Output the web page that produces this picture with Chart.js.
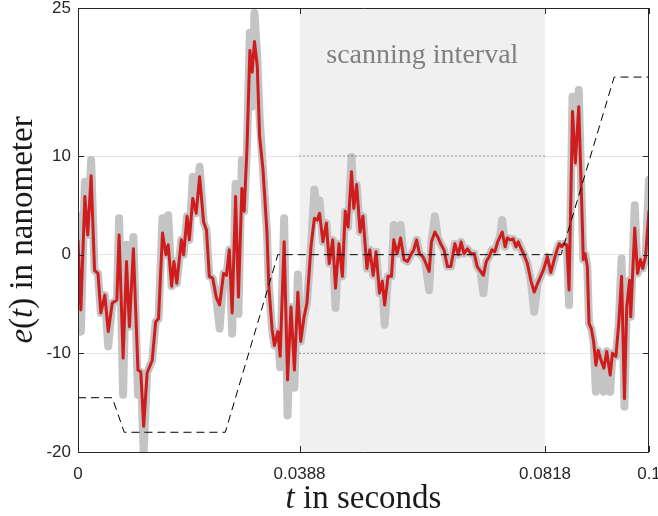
<!DOCTYPE html>
<html>
<head>
<meta charset="utf-8">
<script src="https://cdn.jsdelivr.net/npm/chart.js@4.4.1/dist/chart.umd.min.js"></script>
<style>
  body { margin: 0; background: #fff; }
</style>
</head>
<body>
<canvas id="chartErro" width="658" height="516"></canvas>
<script>
// dados (t em segundos, e em nanometros)
const tempo = [
  0.0000, 0.0005, 0.0012, 0.0017, 0.0023, 0.0029, 0.0035, 0.0040, 0.0047, 0.0053,
  0.0060, 0.0068, 0.0072, 0.0079, 0.0085, 0.0090, 0.0097, 0.0105, 0.0110, 0.0115,
  0.0121, 0.0130, 0.0136, 0.0141, 0.0148, 0.0154, 0.0158, 0.0164, 0.0168, 0.0173,
  0.0181, 0.0185, 0.0191, 0.0195, 0.0201, 0.0207, 0.0213, 0.0220, 0.0225, 0.0230,
  0.0236, 0.0242, 0.0248, 0.0255, 0.0260, 0.0265, 0.0270, 0.0276, 0.0281, 0.0287,
  0.0291, 0.0296, 0.0301, 0.0305, 0.0309, 0.0314, 0.0318, 0.0324, 0.0331, 0.0334,
  0.0340, 0.0344, 0.0350, 0.0354, 0.0361, 0.0367, 0.0373, 0.0379, 0.0385, 0.0390,
  0.0396, 0.0401, 0.0408, 0.0414, 0.0419, 0.0423, 0.0429, 0.0435, 0.0440, 0.0446,
  0.0451, 0.0457, 0.0463, 0.0468, 0.0473, 0.0479, 0.0483, 0.0488, 0.0494, 0.0499,
  0.0506, 0.0511, 0.0517, 0.0522, 0.0528, 0.0533, 0.0537, 0.0543, 0.0549, 0.0553,
  0.0559, 0.0565, 0.0571, 0.0577, 0.0584, 0.0588, 0.0593, 0.0598, 0.0604, 0.0608,
  0.0615, 0.0619, 0.0625, 0.0630, 0.0636, 0.0641, 0.0647, 0.0653, 0.0660, 0.0666,
  0.0671, 0.0676, 0.0682, 0.0688, 0.0694, 0.0699, 0.0705, 0.0710, 0.0715, 0.0720,
  0.0725, 0.0730, 0.0735, 0.0739, 0.0743, 0.0748, 0.0752, 0.0757, 0.0762, 0.0767,
  0.0771, 0.0776, 0.0781, 0.0787, 0.0793, 0.0799, 0.0805, 0.0811, 0.0816, 0.0822,
  0.0828, 0.0834, 0.0839, 0.0843, 0.0847, 0.0851, 0.0856, 0.0860, 0.0866, 0.0871,
  0.0877, 0.0882, 0.0885, 0.0888, 0.0892, 0.0895, 0.0899, 0.0903, 0.0907, 0.0911,
  0.0916, 0.0921, 0.0926, 0.0932, 0.0936, 0.0942, 0.0947, 0.0952, 0.0957, 0.0961,
  0.0966, 0.0968, 0.0975, 0.0980, 0.0985, 0.0989, 0.0994, 0.1000
]

// sinal filtrado (vermelho)
const erroFiltrado = [
  1.5, -5.6, 5.9, 2.0, 8.0, -1.6, -1.9, -5.9, -4.1, -7.8,
  -4.9, -4.6, 2.0, -10.5, -0.7, -7.3, 0.6, -11.7, -11.9, -17.4,
  -12.0, -10.7, -6.8, -6.5, 2.2, 0.0, 1.0, -3.2, -0.7, -2.9,
  1.5, 0.0, 3.9, 1.5, 5.7, 4.2, 7.9, 3.3, 2.5, -2.2,
  -2.4, -4.3, -5.1, -1.9, -2.1, 0.5, -5.9, 5.9, -4.3, 6.7,
  4.4, 10.9, 20.7, 18.5, 21.6, 19.1, 12.0, 8.6, 2.2, -3.0,
  -7.6, -9.2, -7.8, -10.3, 1.3, -12.7, -5.3, -11.7, -3.8, -8.8,
  -6.3, -4.9, 0.8, 3.7, 3.5, 4.2, 1.3, 3.2, -0.9, 1.5,
  -3.4, 1.1, -2.2, 4.4, 2.8, 8.4, 4.7, 7.1, 2.3, 3.9,
  -1.4, 0.5, -2.1, 0.3, -3.9, -2.7, -5.1, -2.2, -2.2, 1.5,
  0.1, 1.7, -0.5, -0.7, 0.1, 0.5, 1.5, 0.1, -0.2, -0.7,
  -1.7, 1.3, 2.3, 1.8, 1.0, 0.5, -1.2, -1.2, 1.1, 0.0,
  1.3, 0.1, 0.6, 0.1, 0.1, -1.2, -1.7, -2.1, -0.7, -0.2,
  0.5, 0.3, 1.3, 1.8, 2.3, 0.8, 1.7, 1.5, 1.6, 0.8,
  1.3, 0.6, 0.0, -0.9, -2.6, -3.8, -2.9, -2.1, -1.4, -0.2,
  -1.8, -0.5, 0.5, 1.1, 0.8, 1.1, 1.0, -3.6, 14.5, 9.3,
  15.0, 5.5, -0.5, 0.1, -1.2, -7.0, -7.5, -8.8, -11.2, -9.7,
  -10.7, -11.5, -9.8, -12.2, -10.0, -10.3, -7.0, -2.2, -14.6, -5.3,
  -2.6, -6.3, 2.7, -1.9, -0.5, -1.4, -0.2, 4.5
]

// sinal bruto (faixa cinza)
const erroBruto = [
  3.9, -7.8, 7.4, 2.0, 9.6, -1.6, -1.9, -5.9, -4.1, -9.3,
  -4.9, -4.6, 3.7, -14.2, 1.0, -7.3, 1.8, -14.2, -11.9, -20.0,
  -12.0, -10.7, -6.8, -6.5, 3.7, 0.0, 4.0, -3.2, -0.7, -2.9,
  1.5, 0.0, 3.9, 1.5, 7.9, 4.2, 8.9, 3.3, 2.5, -2.2,
  -2.4, -4.3, -7.5, -1.9, -2.1, 0.5, -8.0, 7.2, -6.0, 9.6,
  4.4, 10.9, 22.5, 15.0, 24.5, 20.0, 14.0, 8.6, 2.2, -3.0,
  -7.6, -9.2, -7.8, -11.4, 3.7, -16.3, -5.3, -13.5, -2.0, -8.8,
  -6.3, -4.9, 0.8, 6.6, 3.5, 5.5, 1.3, 3.2, -0.9, 1.5,
  -5.4, 1.1, -2.2, 4.4, 2.8, 9.9, 4.7, 7.1, 2.3, 3.9,
  -1.4, 0.5, -2.1, 0.3, -3.9, -2.7, -7.1, -2.2, -2.2, 3.0,
  0.1, 3.0, -0.5, -0.7, 0.1, 0.5, 1.5, 0.1, -0.2, -0.7,
  -3.6, 1.3, 3.9, 1.8, 1.0, 0.5, -1.2, -1.2, 1.1, 0.0,
  1.3, 0.1, 0.6, 0.1, 0.1, -1.2, -1.7, -3.9, -0.7, -0.2,
  0.5, 0.3, 1.3, 1.8, 3.5, 0.8, 1.7, 1.5, 1.6, 0.8,
  1.3, 0.6, 0.0, -0.9, -2.6, -5.8, -2.9, -2.1, -1.4, -0.2,
  -1.8, -0.5, 0.5, 1.1, 0.8, 1.1, 1.0, -5.1, 16.0, 9.3,
  16.7, 5.5, -0.5, 0.1, -1.2, -7.0, -7.5, -8.8, -13.9, -9.7,
  -10.7, -13.9, -9.8, -13.9, -10.0, -10.3, -7.0, -0.4, -15.4, -5.3,
  -2.6, -6.3, 5.0, -1.9, -0.5, -1.4, -0.2, 7.6
]

// referencia (tracejada)
const tempoRef = [0, 0.0060, 0.0081, 0.0258, 0.0350, 0.0846, 0.0939, 0.1]
const valorRef = [-14.5, -14.5, -18, -18, 0, 0, 18, 18]

// intervalo de varredura e limites pontilhados
const intervaloVarredura = [0.0388, 0.0818]
const limiteSup = [10, 10]
const limiteInf = [-10, -10]

const ticksX = [0, 0.0388, 0.0818, 0.1]
const ticksY = [-20, -10, 0, 10, 25]
const linhasGrade = [-10, 0, 10]

function pontos(xs, ys) {
  return xs.map((x, i) => ({ x: x, y: ys[i] }))
}

const corEixo = '#262626'

const molduraPlugin = {
  id: 'moldura',
  beforeDatasetsDraw(chart) {
    const { ctx, chartArea: a, scales: { x } } = chart
    const x1 = x.getPixelForValue(intervaloVarredura[0])
    const x2 = x.getPixelForValue(intervaloVarredura[1])
    ctx.save()
    ctx.fillStyle = '#f0f0f0'
    ctx.fillRect(x1, a.top, x2 - x1, a.bottom - a.top)
    ctx.fillStyle = '#808080'
    ctx.font = '28px "Liberation Serif"'
    ctx.textAlign = 'center'
    ctx.textBaseline = 'alphabetic'
    ctx.fillText('scanning interval', (x1 + x2) / 2, 63)
    ctx.restore()
  },
  afterDraw(chart) {
    const { ctx, chartArea: a, scales: { x, y } } = chart
    ctx.save()
    ctx.strokeStyle = corEixo
    ctx.lineWidth = 1
    ctx.beginPath()
    ctx.rect(Math.round(a.left) + 0.5, Math.round(a.top) + 0.5, Math.round(a.right - a.left) - 1, Math.round(a.bottom - a.top))
    // marcas para dentro
    ticksY.forEach((v) => {
      const py = Math.round(y.getPixelForValue(v)) + 0.5
      ctx.moveTo(a.left, py); ctx.lineTo(a.left + 6, py)
      ctx.moveTo(a.right - 6, py); ctx.lineTo(a.right, py)
    })
    ticksX.forEach((v) => {
      const px = Math.round(x.getPixelForValue(v)) + 0.5
      ctx.moveTo(px, a.bottom); ctx.lineTo(px, a.bottom - 6)
      ctx.moveTo(px, a.top); ctx.lineTo(px, a.top + 6)
    })
    ctx.stroke()

    // titulos dos eixos (partes em italico)
    ctx.fillStyle = '#1a1a1a'
    ctx.textBaseline = 'alphabetic'
    const normal = '33px "Liberation Serif"'
    const italico = 'italic 33px "Liberation Serif"'

    function escreve(partes, cx, cy) {
      let total = 0
      partes.forEach((p) => { ctx.font = p[1]; total += ctx.measureText(p[0]).width })
      let pos = cx - total / 2
      partes.forEach((p) => {
        ctx.font = p[1]
        ctx.fillText(p[0], pos, cy)
        pos += ctx.measureText(p[0]).width
      })
    }

    ctx.textAlign = 'left'
    escreve([['t', italico], [' in seconds', normal]], (a.left + a.right) / 2, 508)

    ctx.save()
    ctx.translate(32, (a.top + a.bottom) / 2)
    ctx.rotate(-Math.PI / 2)
    escreve([['e', italico], ['(', normal], ['t', italico], [')', normal], [' in nanometer', normal]], 0, 0)
    ctx.restore()

    ctx.restore()
  }
}

const ctx = document.getElementById('chartErro')

var chartErro = new Chart(ctx, {
  type: 'line',
  data: {
    datasets: [
      {
        label: 'referencia',
        data: pontos(tempoRef, valorRef),
        borderColor: '#000000',
        borderWidth: 1,
        borderDash: [8, 5],
        pointRadius: 0,
        order: 0
      },
      {
        label: 'limite superior',
        data: pontos(intervaloVarredura, limiteSup),
        borderColor: '#333333',
        borderWidth: 1,
        borderDash: [1, 3],
        pointRadius: 0,
        order: 1
      },
      {
        label: 'limite inferior',
        data: pontos(intervaloVarredura, limiteInf),
        borderColor: '#333333',
        borderWidth: 1,
        borderDash: [1, 3],
        pointRadius: 0,
        order: 1
      },
      {
        label: 'filtrado',
        data: pontos(tempo, erroFiltrado),
        borderColor: '#cf1d1d',
        borderWidth: 3,
        pointRadius: 0,
        borderJoinStyle: 'round',
        order: 2
      },
      {
        label: 'bruto',
        data: pontos(tempo, erroBruto),
        borderColor: '#c4c4c4',
        borderWidth: 8,
        pointRadius: 0,
        borderJoinStyle: 'round',
        borderCapStyle: 'round',
        order: 3
      }
    ]
  },
  options: {
    responsive: false,
    animation: false,
    devicePixelRatio: 1,
    layout: { padding: { top: 8, right: 9, left: 0, bottom: 0 } },
    plugins: {
      legend: { display: false },
      tooltip: { enabled: false }
    },
    scales: {
      x: {
        type: 'linear',
        min: 0,
        max: 0.1,
        afterBuildTicks: (scale) => { scale.ticks = ticksX.map((v) => ({ value: v })) },
        afterFit: (scale) => { scale.height = 64; scale.paddingLeft = 0; scale.paddingRight = 0 },
        grid: { display: false, drawTicks: false },
        border: { display: false },
        ticks: {
          color: corEixo,
          font: { family: 'Liberation Sans', size: 17 },
          padding: 12,
          maxRotation: 0,
          autoSkip: false,
          callback: (v) => String(v)
        }
      },
      y: {
        min: -20,
        max: 25,
        afterBuildTicks: (scale) => { scale.ticks = ticksY.map((v) => ({ value: v })) },
        afterFit: (scale) => { scale.width = 78; scale.paddingTop = 0; scale.paddingBottom = 0 },
        grid: {
          drawTicks: false,
          color: (c) => linhasGrade.includes(c.tick.value) ? '#e3e3e3' : 'rgba(0,0,0,0)'
        },
        border: { display: false },
        ticks: {
          color: corEixo,
          font: { family: 'Liberation Sans', size: 17 },
          padding: 7,
          autoSkip: false,
          callback: (v) => String(v)
        }
      }
    }
  },
  plugins: [molduraPlugin]
})
</script>
</body>
</html>
